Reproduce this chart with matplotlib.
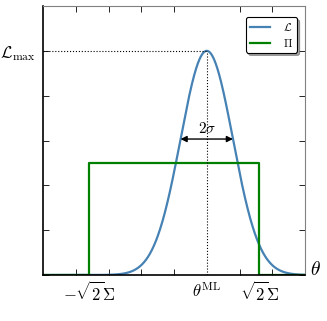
import numpy as np
import matplotlib
matplotlib.use("Agg")
import matplotlib.pyplot as plt

plt.rcParams['mathtext.fontset'] = 'cm'
plt.rcParams['font.family'] = ['DejaVu Serif']

# data
theta_ml = 1.0
sigma = 0.8
L_max = 1.0
box_half = 2.6
box_height = 0.5
x_min, x_max = -4.0, 4.0
x_ticks_minor = [-3, -2, -1, 0, 1, 2, 3]
y_ticks = [0.0, 0.2, 0.4, 0.6, 0.8, 1.0, 1.2]
x_tick_labels = [r'$-\sqrt{2}\Sigma$', r'$\theta^{\rm ML}$', r'$\sqrt{2}\Sigma$']

fig = plt.figure(figsize=(3.27, 3.21), dpi=100)
ax = fig.add_axes([43/327, 1-275/321, 262/327, 269/321])

x = np.linspace(x_min, x_max, 800)
L = L_max*np.exp(-(x-theta_ml)**2/(2*sigma**2))
ax.plot(x, L, color='#4682b4', lw=1.6, label=r'$\mathcal{L}$')
box_x = [x_min, -box_half, -box_half, box_half, box_half, x_max]
box_y = [0, 0, box_height, box_height, 0, 0]
ax.plot(box_x, box_y, color='green', lw=1.6, label=r'$\Pi$')

ax.plot([x_min, theta_ml], [L_max, L_max], color='k', ls=':', lw=0.8)
ax.plot([theta_ml, theta_ml], [0, L_max], color='k', ls=':', lw=0.8)

yarr = L_max*np.exp(-0.5)
ax.annotate('', xy=(theta_ml-sigma, yarr), xytext=(theta_ml+sigma, yarr),
            arrowprops=dict(arrowstyle='<|-|>', color='k', lw=1, mutation_scale=9,
                            shrinkA=0, shrinkB=0))
ax.text(theta_ml, yarr+0.015, r'$2\sigma$', ha='center', va='bottom', fontsize=11)

ax.set_xlim(x_min, x_max)
ax.set_ylim(0, 1.2)
ax.set_xticks([-box_half, theta_ml, box_half])
ax.set_xticklabels(x_tick_labels, fontsize=12)
ax.set_xticks(x_ticks_minor, minor=True)
ax.set_yticks(y_ticks)
ax.set_yticklabels(['', '', '', '', '', r'$\mathcal{L}_{\max}$', ''], fontsize=12)
ax.tick_params(which='both', direction='in', top=True, right=True, length=4, width=0.6,
               pad=5)
ax.tick_params(axis='x', which='major', length=0)
for s in ['top', 'right']:
    ax.spines[s].set_color('#808080')
for s in ['left', 'bottom']:
    ax.spines[s].set_color('black')
    ax.spines[s].set_linewidth(1.2)

ax.text(1.02, 0.02, r'$\theta$', transform=ax.transAxes, fontsize=14, ha='left', va='center')

leg = ax.legend(loc='upper right', fontsize=8, shadow=True, fancybox=True,
                handlelength=1.8, borderpad=0.35, labelspacing=0.35,
                handletextpad=1.2, framealpha=1, edgecolor='black',
                bbox_to_anchor=(0.99, 0.98))
leg.get_frame().set_linewidth(0.8)

fig.savefig('out.png', dpi=100)
